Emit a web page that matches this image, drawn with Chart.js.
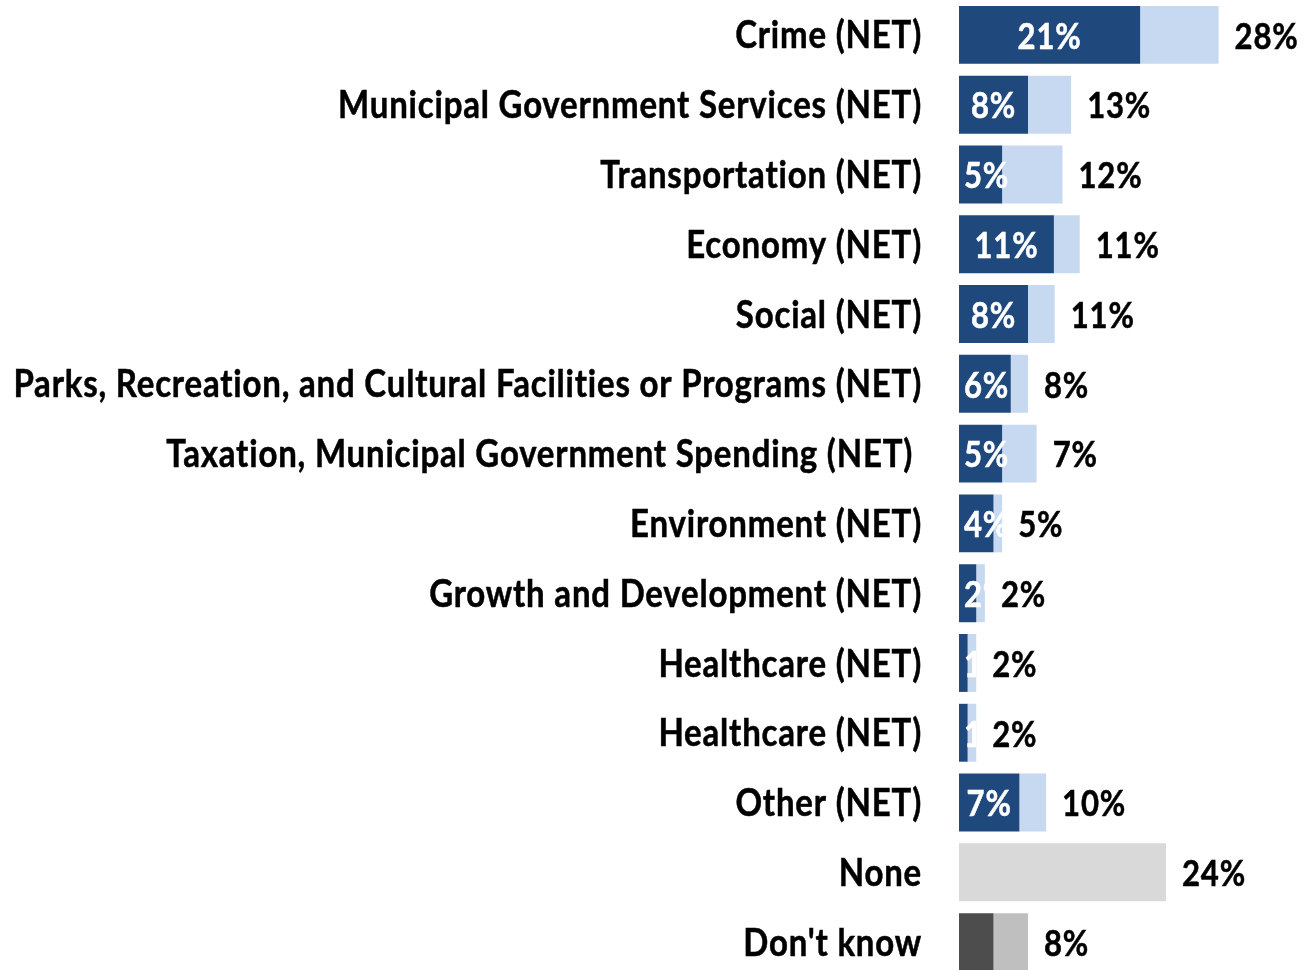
<!DOCTYPE html>
<html>
<head>
<meta charset="utf-8">
<script src="https://cdn.jsdelivr.net/npm/chart.js@4/dist/chart.umd.min.js"></script>
<style>
    html, body { margin: 0; padding: 0; background: #fff; overflow: hidden; }
    #wrap { position: relative; width: 1304px; height: 977px; }
</style>
</head>
<body>
<div id="wrap"><canvas id="chart"></canvas></div>
<script>
    const categories = [
        "Crime (NET)",
        "Municipal Government Services (NET)",
        "Transportation (NET)",
        "Economy (NET)",
        "Social (NET)",
        "Parks, Recreation, and Cultural Facilities or Programs (NET)",
        "Taxation, Municipal Government Spending (NET) ",
        "Environment (NET)",
        "Growth and Development (NET)",
        "Healthcare (NET)",
        "Healthcare (NET)",
        "Other (NET)",
        "None",
        "Don't know"
    ];
    // first mention (dark segment) and remaining mentions (light segment), in %
    const firstMention = [21, 8, 5, 11, 8, 6, 5, 4, 2, 1, 1, 7, 24, 4];
    const otherMention = [9.1, 5, 7, 3, 3.1, 2, 4, 1, 1, 1, 1, 3.1, 0, 4];
    const firstLabels = [21, 8, 5, 11, 8, 6, 5, 4, 2, 1, 1, 7, null, null];
    const totalLabels = [28, 13, 12, 11, 11, 8, 7, 5, 2, 2, 2, 10, 24, 8];

    const FONT = "Lato";
    const SPACING = 0.8;     // px; non-zero spacing also turns off the "ti" ligature
    const STRETCH = 1.15;    // the original font is taller than Lato at the same width
    const CAP = 0.7165;      // Lato cap height / em
    const DARK = "#1F497D";
    const LIGHT = "#C6D9F1";

    // font sizes fitted to the widths in the reference (spacing included)
    function fitSize(text, width) {
        let ctx = document.createElement("canvas").getContext("2d");
        ctx.font = `bold 100px ${FONT}`;
        return 100 * (width - SPACING * text.length) / ctx.measureText(text).width;
    }
    const labelSize = fitSize(categories[5], 910);
    const valueSize = fitSize("28%", 64);

    let darkColors = categories.map((c, i) => i === 12 ? "#D9D9D9" : i === 13 ? "#4D4D4D" : DARK);
    let lightColors = categories.map((c, i) => i === 13 ? "#BFBFBF" : LIGHT);

    // text vertically centred on y by its cap height, a bit stretched and thickened
    function drawText(ctx, txt, x, y, size) {
        ctx.save();
        ctx.translate(x, y + CAP * size * STRETCH / 2);
        ctx.scale(1, STRETCH);
        ctx.lineWidth = 0.45;
        ctx.strokeStyle = ctx.fillStyle;
        ctx.fillText(txt, 0, 0);
        ctx.strokeText(txt, 0, 0);
        ctx.restore();
    }

    // Category names on the left, first mention inside the dark bar, total to the right
    const barLabels = {
        id: "barLabels",
        afterDatasetsDraw(chart) {
            let ctx = chart.ctx;
            let m0 = chart.getDatasetMeta(0).data;
            let m1 = chart.getDatasetMeta(1).data;
            ctx.save();
            ctx.textBaseline = "alphabetic";
            ctx.letterSpacing = SPACING + "px";
            categories.forEach((c, i) => {
                let dark = m0[i], light = m1[i];
                let h = dark.height;

                ctx.font = `bold ${labelSize}px ${FONT}`;
                ctx.fillStyle = "#000";
                ctx.textAlign = "right";
                drawText(ctx, c, chart.chartArea.left - 37, dark.y, labelSize);

                ctx.font = `bold ${valueSize}px ${FONT}`;
                if (firstLabels[i] !== null) {
                    let txt = firstLabels[i] + "%";
                    let w = ctx.measureText(txt).width;
                    let x = Math.max((dark.base + dark.x) / 2, dark.base + 5 + w / 2);
                    ctx.save();
                    ctx.beginPath();
                    ctx.rect(dark.base, dark.y - h / 2, light.x - dark.base, h);
                    ctx.clip();
                    ctx.fillStyle = "#fff";
                    ctx.textAlign = "center";
                    drawText(ctx, txt, x, dark.y + 1, valueSize);
                    ctx.restore();
                }
                ctx.fillStyle = "#000";
                ctx.textAlign = "left";
                drawText(ctx, totalLabels[i] + "%", light.x + 16, light.y + 1, valueSize);
            });
            ctx.restore();
        }
    };

    new Chart(document.getElementById("chart"), {
        type: "bar",
        data: {
            labels: categories,
            datasets: [
                { data: firstMention, backgroundColor: darkColors, borderWidth: 0 },
                { data: otherMention, backgroundColor: lightColors, borderWidth: 0 }
            ]
        },
        options: {
            indexAxis: "y",
            responsive: true,
            maintainAspectRatio: false,
            animation: false,
            layout: { padding: 0 },
            datasets: { bar: { barPercentage: 0.83, categoryPercentage: 1 } },
            scales: {
                x: { stacked: true, min: 0, max: 40, display: false },
                y: {
                    stacked: true,
                    grid: { display: false, drawTicks: false },
                    border: { display: false },
                    ticks: { display: false },
                    afterFit(scale) { scale.width = 959; }
                }
            },
            plugins: { legend: { display: false }, tooltip: { enabled: false } }
        },
        plugins: [barLabels]
    });
</script>
</body>
</html>
